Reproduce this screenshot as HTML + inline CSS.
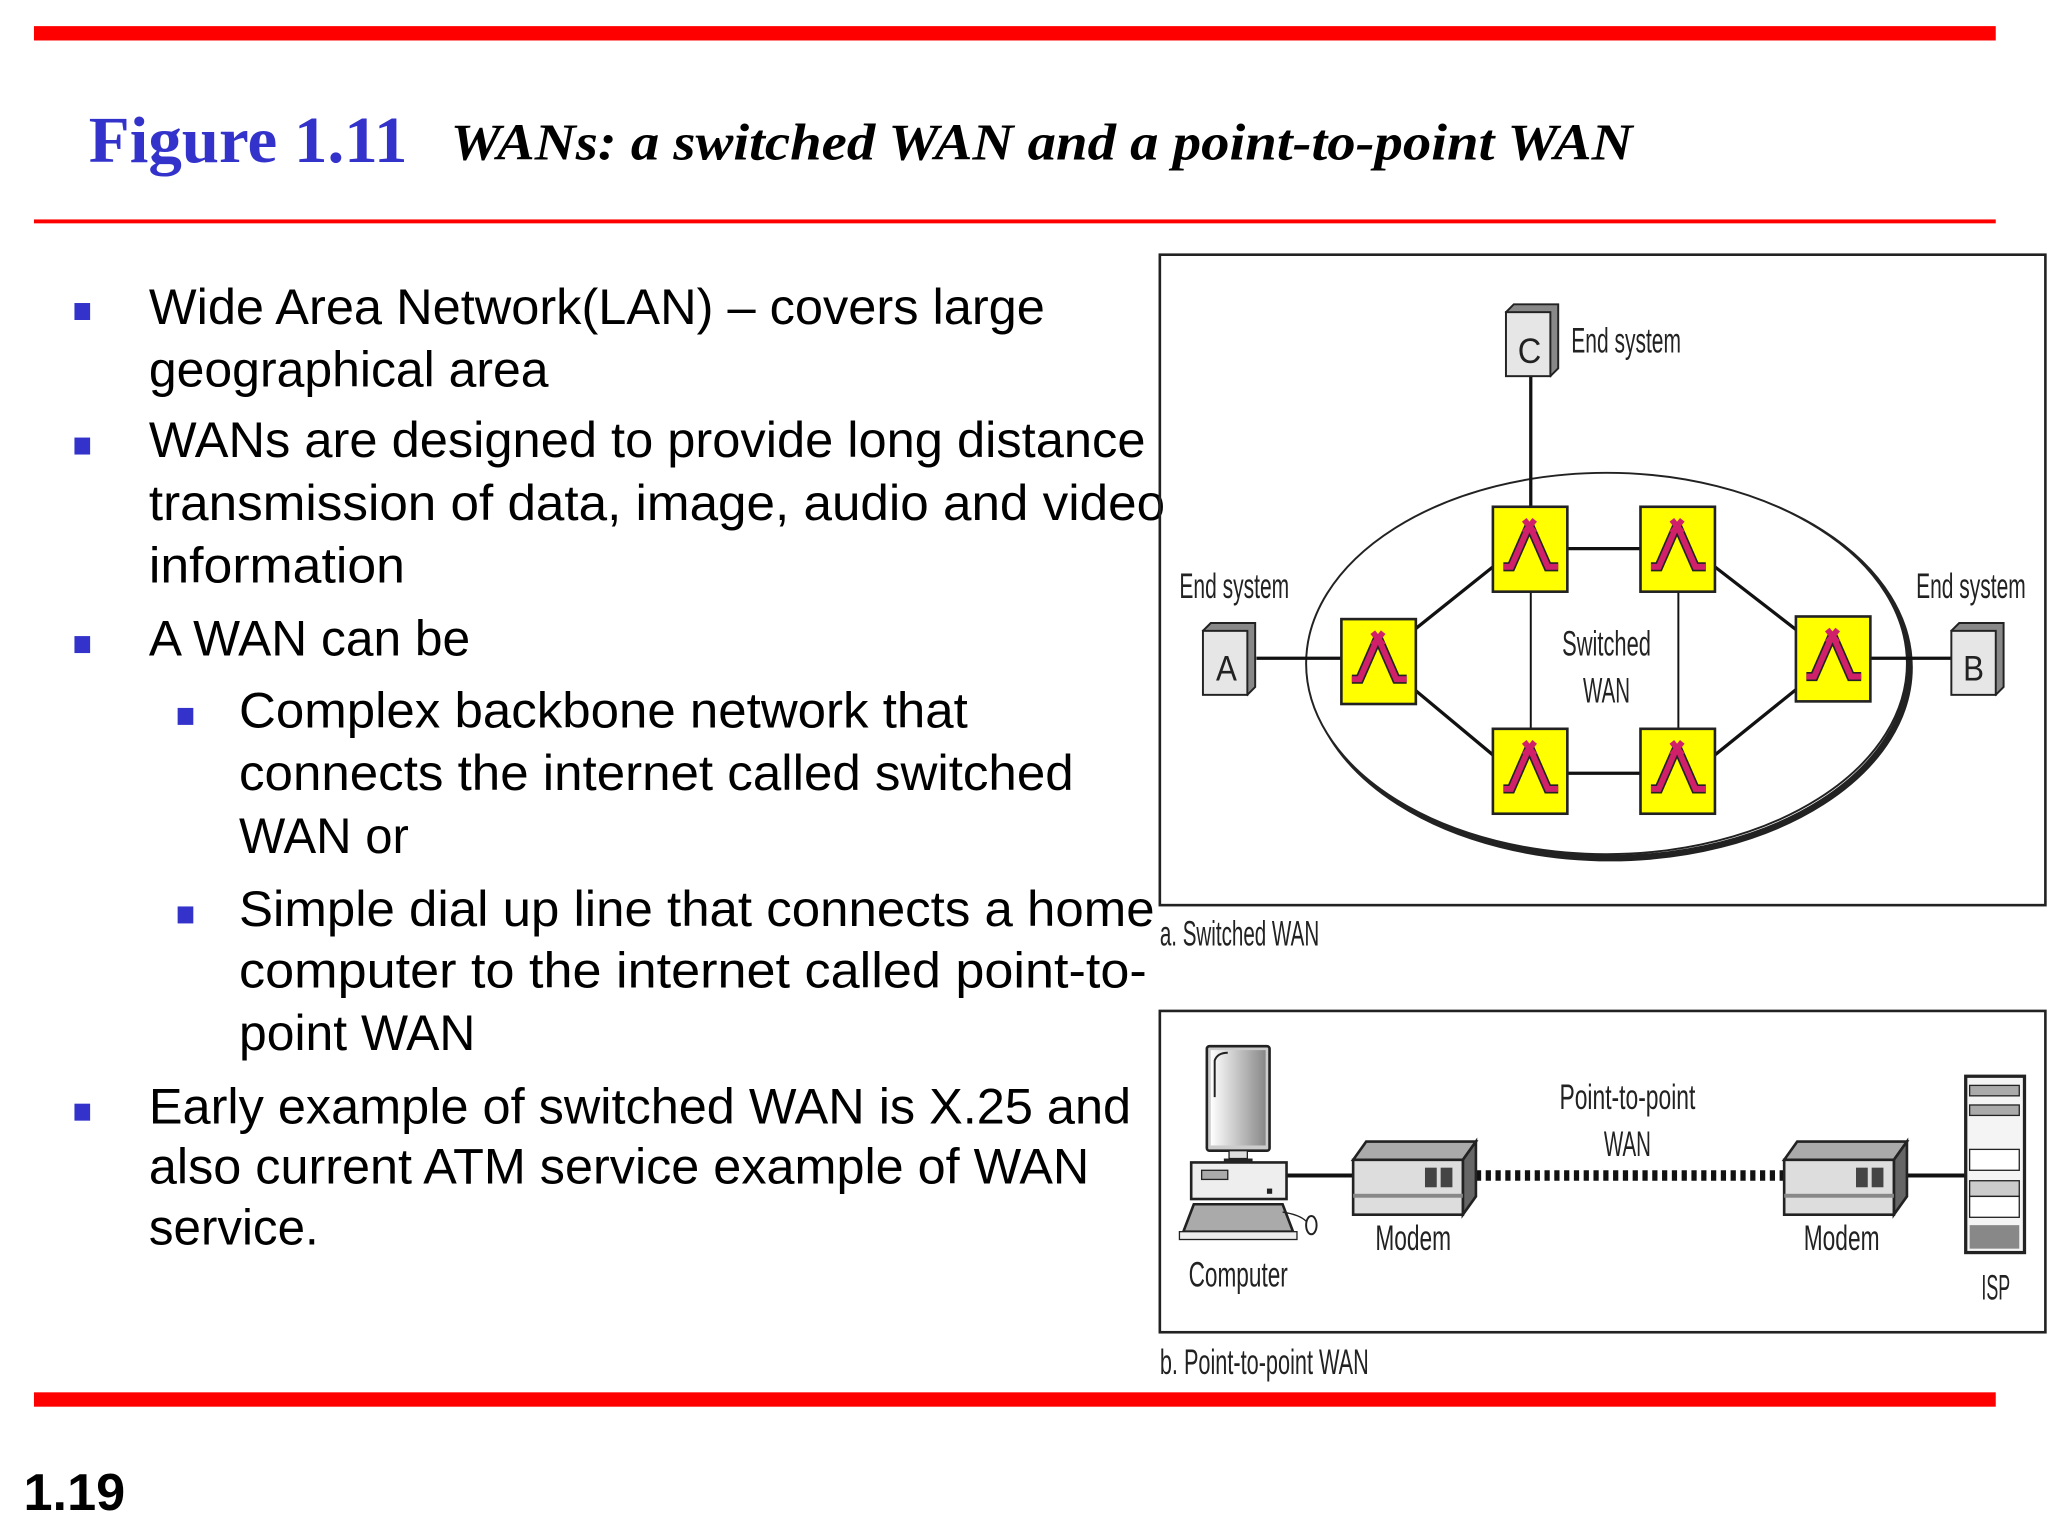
<!DOCTYPE html>
<html><head><meta charset="utf-8"><style>
html,body{margin:0;padding:0;background:#fff;width:2048px;height:1536px;overflow:hidden}
svg{display:block}
text{font-family:"Liberation Sans",sans-serif}
.b{font-size:38px;fill:#000}
.l{font-size:27px;fill:#222}
</style></head><body>
<svg width="2048" height="1536" viewBox="0 0 1568 1176" xmlns="http://www.w3.org/2000/svg">
<defs>
<linearGradient id="scr" x1="0" x2="1" y1="0" y2="0"><stop offset="0" stop-color="#fff"/><stop offset="1" stop-color="#888"/></linearGradient>
<g id="sw"><rect x="0" y="0" width="57" height="65" fill="#ffff00" stroke="#222" stroke-width="2"/>
<path d="M28 14 L14 46 L8 46 M28 14 L42 46 L50 46" fill="none" stroke="#222" stroke-width="7"/>
<path d="M28 14 L14 46 L8 46 M28 14 L42 46 L50 46 M24 10 L32 20 M32 10 L24 20" fill="none" stroke="#d0206a" stroke-width="4.5"/></g>
<g id="es"><path d="M0 6 L6 0 L40 0 L40 49 L34 55 Z" fill="#888" stroke="#222" stroke-width="1.5"/><rect x="0" y="6" width="34" height="49" fill="#e6e6e6" stroke="#222" stroke-width="1.5"/></g>
</defs>
<rect width="1568" height="1176" fill="#fff"/>
<rect x="26" y="20" width="1502" height="11" fill="#f00"/>
<rect x="26" y="168" width="1502" height="3" fill="#f00"/>
<rect x="26" y="1066" width="1502" height="11" fill="#f00"/>
<text x="68" y="124" font-weight="bold" font-size="50" fill="#3333cc" textLength="244" lengthAdjust="spacingAndGlyphs" style="font-family:'Liberation Serif',serif">Figure 1.11</text>
<text x="345" y="122" font-weight="bold" font-style="italic" font-size="40" textLength="905" lengthAdjust="spacingAndGlyphs" style="font-family:'Liberation Serif',serif">WANs: a switched WAN and a point-to-point WAN</text>
<text x="18" y="1156" font-weight="bold" font-size="40">1.19</text>
<g fill="#3333cc">
<rect x="57" y="232" width="12" height="13"/><rect x="57" y="335" width="12" height="13"/><rect x="57" y="487" width="12" height="13"/>
<rect x="136" y="542" width="12" height="13"/><rect x="136" y="694" width="12" height="13"/><rect x="57" y="845" width="12" height="13"/>
</g>
<text class="b" x="114" y="248" textLength="686" lengthAdjust="spacingAndGlyphs">Wide Area Network(LAN) – covers large</text>
<text class="b" x="114" y="296" textLength="306" lengthAdjust="spacingAndGlyphs">geographical area</text>
<text class="b" x="114" y="350" textLength="763" lengthAdjust="spacingAndGlyphs">WANs are designed to provide long distance</text>
<text class="b" x="114" y="398" textLength="778" lengthAdjust="spacingAndGlyphs">transmission of data, image, audio and video</text>
<text class="b" x="114" y="446" textLength="196" lengthAdjust="spacingAndGlyphs">information</text>
<text class="b" x="114" y="502" textLength="246" lengthAdjust="spacingAndGlyphs">A WAN can be</text>
<text class="b" x="183" y="557" textLength="558" lengthAdjust="spacingAndGlyphs">Complex backbone network that</text>
<text class="b" x="183" y="605" textLength="639" lengthAdjust="spacingAndGlyphs">connects the internet called switched</text>
<text class="b" x="183" y="653" textLength="130" lengthAdjust="spacingAndGlyphs">WAN or</text>
<text class="b" x="183" y="709" textLength="701" lengthAdjust="spacingAndGlyphs">Simple dial up line that connects a home</text>
<text class="b" x="183" y="756" textLength="695" lengthAdjust="spacingAndGlyphs">computer to the internet called point-to-</text>
<text class="b" x="183" y="804" textLength="181" lengthAdjust="spacingAndGlyphs">point WAN</text>
<text class="b" x="114" y="860" textLength="752" lengthAdjust="spacingAndGlyphs">Early example of switched WAN is X.25 and</text>
<text class="b" x="114" y="906" textLength="720" lengthAdjust="spacingAndGlyphs">also current ATM service example of WAN</text>
<text class="b" x="114" y="953" textLength="130" lengthAdjust="spacingAndGlyphs">service.</text>
<!-- box a -->
<rect x="888" y="195" width="678" height="498" fill="none" stroke="#222" stroke-width="2"/>
<text class="l" x="888" y="724" textLength="122" lengthAdjust="spacingAndGlyphs">a. Switched WAN</text>
<ellipse cx="1233" cy="511" rx="229" ry="146" fill="none" stroke="#222" stroke-width="5"/>
<ellipse cx="1230" cy="508" rx="230" ry="146" fill="#fff" stroke="#222" stroke-width="1.5"/>
<g stroke="#111" stroke-width="2.5">
<line x1="1172" y1="288" x2="1172" y2="390"/>
<line x1="962" y1="504" x2="1028" y2="504"/>
<line x1="1432" y1="504" x2="1494" y2="504"/>
<line x1="1200" y1="420" x2="1256" y2="420"/>
<line x1="1200" y1="592" x2="1256" y2="592"/>
<line x1="1083" y1="482" x2="1143" y2="434"/>
<line x1="1083" y1="528" x2="1143" y2="578"/>
<line x1="1313" y1="434" x2="1375" y2="482"/>
<line x1="1313" y1="578" x2="1375" y2="528"/>
<line x1="1172" y1="453" x2="1172" y2="558" stroke-width="1.5"/>
<line x1="1285" y1="453" x2="1285" y2="558" stroke-width="1.5"/>
</g>
<use href="#sw" x="1143" y="388"/><use href="#sw" x="1256" y="388"/>
<use href="#sw" x="1027" y="474"/><use href="#sw" x="1375" y="472"/>
<use href="#sw" x="1143" y="558"/><use href="#sw" x="1256" y="558"/>
<use href="#es" x="1153" y="233"/><use href="#es" x="921" y="477"/><use href="#es" x="1494" y="477"/>
<text class="l" x="1162" y="278" font-size="26" textLength="18" lengthAdjust="spacingAndGlyphs">C</text>
<text class="l" x="931" y="521" font-size="26" textLength="16" lengthAdjust="spacingAndGlyphs">A</text>
<text class="l" x="1503" y="521" font-size="26" textLength="16" lengthAdjust="spacingAndGlyphs">B</text>
<text class="l" x="1203" y="270" textLength="84" lengthAdjust="spacingAndGlyphs">End system</text>
<text class="l" x="903" y="458" textLength="84" lengthAdjust="spacingAndGlyphs">End system</text>
<text class="l" x="1467" y="458" textLength="84" lengthAdjust="spacingAndGlyphs">End system</text>
<text class="l" x="1196" y="502" textLength="68" lengthAdjust="spacingAndGlyphs">Switched</text>
<text class="l" x="1212" y="538" textLength="36" lengthAdjust="spacingAndGlyphs">WAN</text>
<!-- box b -->
<rect x="888" y="774" width="678" height="246" fill="none" stroke="#222" stroke-width="2"/>
<text class="l" x="888" y="1052" textLength="160" lengthAdjust="spacingAndGlyphs">b. Point-to-point WAN</text>
<line x1="985" y1="900" x2="1036" y2="900" stroke="#111" stroke-width="3"/>
<line x1="1440" y1="900" x2="1505" y2="900" stroke="#111" stroke-width="3"/>
<line x1="1130" y1="900" x2="1368" y2="900" stroke="#111" stroke-width="8" stroke-dasharray="4 3.5"/>
<!-- computer -->
<rect x="924" y="801" width="48" height="80" rx="2" fill="#ccc" stroke="#222" stroke-width="2"/>
<rect x="927" y="804" width="42" height="73" fill="url(#scr)"/>
<path d="M930 840 L930 812 Q932 806 940 806" fill="none" stroke="#222" stroke-width="1.5"/>
<rect x="941" y="881" width="14" height="6" fill="#ddd" stroke="#222"/>
<rect x="937" y="887" width="22" height="3" fill="#222"/>
<rect x="912" y="890" width="73" height="28" fill="#eee" stroke="#222" stroke-width="2"/>
<rect x="920" y="896" width="20" height="7" fill="#aaa" stroke="#222"/>
<rect x="970" y="910" width="4" height="4" fill="#222"/>
<path d="M906 943 L914 922 L982 922 L990 943 Z" fill="#aaa" stroke="#222" stroke-width="2"/>
<rect x="903" y="943" width="90" height="6" fill="#eee" stroke="#222"/>
<path d="M982 928 Q995 930 1000 935" fill="none" stroke="#222"/>
<ellipse cx="1004" cy="938" rx="4" ry="7" fill="none" stroke="#222" stroke-width="1.5"/>
<text class="l" x="910" y="985" textLength="76" lengthAdjust="spacingAndGlyphs">Computer</text>
<!-- modems -->
<g id="m1"><path d="M1036 888 L1046 874 L1130 874 L1120 888 Z" fill="#aaa" stroke="#222" stroke-width="2"/><path d="M1120 888 L1130 874 L1130 916 L1120 930 Z" fill="#666" stroke="#222" stroke-width="2"/><rect x="1036" y="888" width="84" height="42" fill="#ddd" stroke="#222" stroke-width="2"/><rect x="1036" y="914" width="84" height="3" fill="#888"/><rect x="1091" y="894" width="9" height="15" fill="#444"/><rect x="1103" y="894" width="9" height="15" fill="#444"/></g>
<use href="#m1" x="330"/>
<text class="l" x="1053" y="957" textLength="58" lengthAdjust="spacingAndGlyphs">Modem</text>
<text class="l" x="1381" y="957" textLength="58" lengthAdjust="spacingAndGlyphs">Modem</text>
<text class="l" x="1194" y="849" textLength="104" lengthAdjust="spacingAndGlyphs">Point-to-point</text>
<text class="l" x="1228" y="885" textLength="36" lengthAdjust="spacingAndGlyphs">WAN</text>
<!-- ISP -->
<rect x="1505" y="824" width="45" height="135" fill="#f4f4f4" stroke="#222" stroke-width="2.5"/>
<rect x="1508" y="831" width="38" height="8" fill="#aaa" stroke="#222"/><rect x="1508" y="846" width="38" height="8" fill="#aaa" stroke="#222"/>
<rect x="1508" y="880" width="38" height="16" fill="#fff" stroke="#222"/>
<rect x="1508" y="904" width="38" height="12" fill="#ccc" stroke="#222"/><rect x="1508" y="916" width="38" height="16" fill="#fff" stroke="#222"/>
<rect x="1508" y="938" width="38" height="18" fill="#888"/>
<text class="l" x="1517" y="995" textLength="22" lengthAdjust="spacingAndGlyphs">ISP</text>
</svg>
</body></html>
